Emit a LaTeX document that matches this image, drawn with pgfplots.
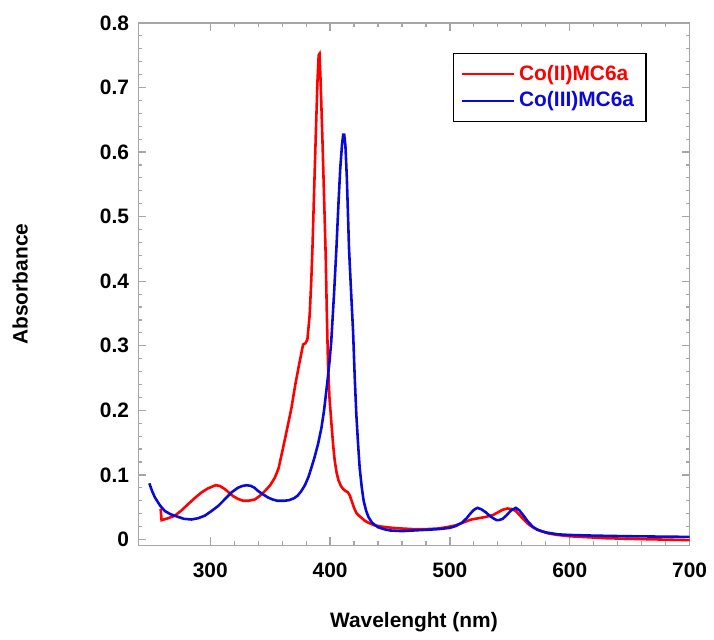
\documentclass[border=0pt]{standalone}
\usepackage{pgfplots}
\pgfplotsset{compat=1.18}
\usepackage{fontspec}
\setmainfont{Liberation Sans}
\definecolor{cred}{RGB}{255,0,0}
\definecolor{cblue}{RGB}{10,10,215}
\begin{document}
\fontsize{10.5}{12}\selectfont
\begin{tikzpicture}
\begin{axis}[
  scale only axis,
  width=277pt, height=262.5pt,
  xmin=240, xmax=700, ymin=-0.009, ymax=0.8,
  xtick={300,400,500,600,700},
  ytick={0,0.1,0.2,0.3,0.4,0.5,0.6,0.7,0.8},
  yticklabels={0,0.1,0.2,0.3,0.4,0.5,0.6,0.7,0.8},
  minor x tick num=4, minor y tick num=4,
  tick align=inside,
  major tick length=4pt, minor tick length=2pt,
  every tick/.style={gray!70, line width=0.6pt},
  axis line style={gray!70, line width=0.8pt},
  /pgf/number format/assume math mode=true,
  ticklabel style={font=\fontsize{10.5}{12}\selectfont\bfseries},
  xticklabel style={yshift=-5pt},
  yticklabel style={xshift=-1pt},
  xlabel={\bfseries Wavelenght (nm)},
  ylabel={\bfseries Absorbance},
  xlabel style={yshift=-10.5pt},
  ylabel style={yshift=29pt},
  legend style={at={(0.922,0.943)}, anchor=north east, draw=black, line width=0.6pt,
    font=\fontsize{10.5}{12}\selectfont\bfseries, inner xsep=4pt, inner ysep=4pt, row sep=0pt},
  legend cell align=left,
  legend image code/.code={\draw[#1, line width=1pt] (0cm,0cm) -- (0.92cm,0cm);},
]
\addplot[cred, line width=1.3pt] coordinates {
(258.6,0.048) (259.4,0.030) (265,0.033) (270.6,0.037) (276,0.045) (281.7,0.055) (287,0.064) (292.8,0.073)
(298,0.079) (304.4,0.084) (308,0.083) (312.2,0.078) (316,0.072) (319.2,0.067) (323,0.063) (327.5,0.060)
(332,0.060) (337.2,0.062) (341,0.067) (345.6,0.075) (350,0.084) (354,0.096) (357,0.110) (360.8,0.142)
(364,0.170) (367.8,0.204) (371,0.240) (374.7,0.276) (377.5,0.302) (379.5,0.304) (381.1,0.310) (383,0.348)
(384.3,0.400) (385.3,0.451) (386.7,0.540) (388,0.621) (389.5,0.710) (390.5,0.750) (391.2,0.752) (392.2,0.705) (393.6,0.621)
(395,0.530) (396.4,0.436) (397.3,0.350) (398.3,0.271) (399.5,0.220) (401,0.183) (402.5,0.148) (403.9,0.122)
(405.5,0.103) (407,0.092) (409,0.083) (411,0.078) (413,0.075) (415,0.073) (416.5,0.068) (418,0.060)
(420,0.049) (422,0.041) (424,0.037) (426,0.034) (429,0.029) (432,0.026) (437,0.022) (443,0.020)
(452,0.018) (460,0.017) (470,0.016) (480,0.016) (490,0.017) (497,0.019) (505,0.022) (512,0.027)
(518,0.031) (524,0.033) (530,0.035) (536,0.038) (540,0.042) (544,0.046) (548,0.048) (552,0.047)
(555,0.044) (558,0.038) (562,0.030) (566,0.023) (570,0.018) (576,0.013) (583,0.009) (590,0.007)
(600,0.005) (610,0.004) (630,0.002) (650,0.001) (675,0.000) (700,-0.001)
};
\addlegendentry{\textcolor{cred}{Co(II)MC6a}}
\addplot[cblue, line width=1.3pt] coordinates {
(249.2,0.087) (251.5,0.075) (253.9,0.065) (258,0.053) (262.2,0.044) (267,0.039) (273.3,0.035) (278,0.032)
(284.4,0.031) (290,0.033) (295.6,0.037) (301,0.044) (306.7,0.052) (312,0.062) (317.8,0.073) (323,0.080)
(327,0.083) (330.3,0.084) (334,0.083) (337,0.080) (340,0.075) (344,0.070) (348.3,0.065) (352,0.062)
(356,0.060) (362,0.060) (366,0.061) (370,0.064) (373,0.068) (376,0.075) (379,0.084) (382,0.097)
(384.4,0.111) (387,0.127) (390,0.148) (392.8,0.173) (395,0.200) (397.8,0.245) (399.5,0.275) (401,0.307)
(403.3,0.380) (405.3,0.451) (407,0.520) (408.5,0.575) (410,0.612) (411,0.627) (411.8,0.627) (412.8,0.610) (414,0.560)
(415,0.500) (415.8,0.451) (417.5,0.385) (419.2,0.322) (420.5,0.255) (421.9,0.194) (423.3,0.150) (424.7,0.111)
(426.5,0.080) (428,0.060) (430,0.045) (432,0.035) (435,0.026) (440,0.019) (445,0.016) (450,0.014)
(460,0.013) (470,0.014) (480,0.015) (490,0.016) (500,0.018) (505,0.021) (510,0.026) (514,0.033)
(517,0.040) (520,0.046) (523,0.049) (526,0.047) (530,0.042) (533,0.037) (536,0.033) (539,0.030)
(541,0.030) (544,0.032) (547,0.037) (551,0.045) (555,0.049) (558,0.045) (561,0.038) (565,0.028)
(569,0.020) (573,0.015) (580,0.011) (590,0.008) (600,0.007) (620,0.006) (650,0.005) (700,0.004)
};
\addlegendentry{\textcolor{cblue}{Co(III)MC6a}}
\end{axis}
\path (current axis.north west) ++(-69.5pt,11.5pt);
\end{tikzpicture}
\end{document}
